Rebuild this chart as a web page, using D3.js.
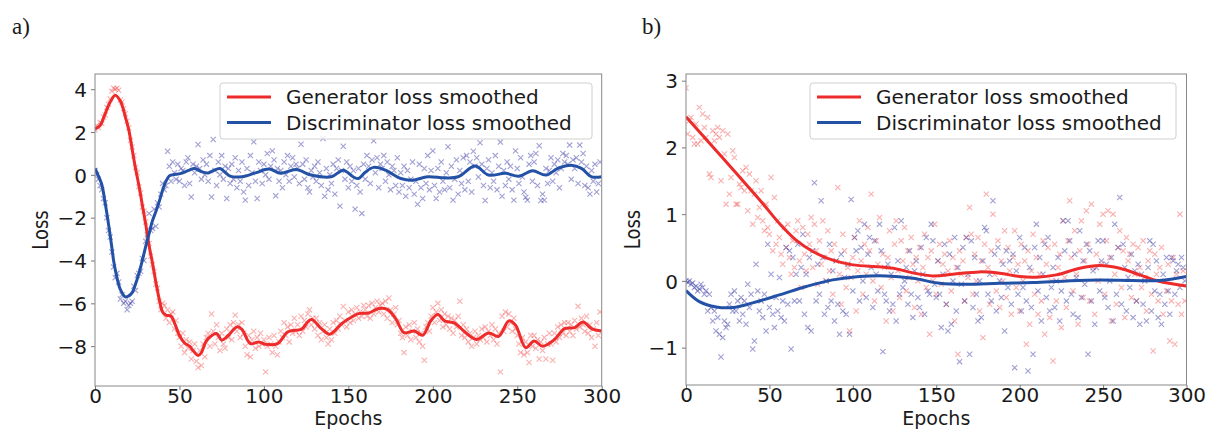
<!DOCTYPE html>
<html>
<head>
<meta charset="utf-8">
<script src="https://cdn.jsdelivr.net/npm/d3@7"></script>
<style>
  html, body { margin: 0; padding: 0; background: #fff; }
  svg { display: block; }
  text { font-family: "DejaVu Sans", sans-serif; fill: #1a1a1a; }
</style>
</head>
<body>
<svg id="chart" width="1215" height="430"></svg>
<script>
// ---------------- DATA ----------------
const xTicks = [0, 50, 100, 150, 200, 250, 300];
const yTicksA = [4, 2, 0, -2, -4, -6, -8];
const yTicksB = [3, 2, 1, 0, -1];
const seriesNames = ["Generator loss smoothed", "Discriminator loss smoothed"];
const panelLabels = ["a)", "b)"];

// raw per-epoch losses (epoch = index), panel a
const genPtsA = [
 2.1,2.3,2.2,2.45,2.4,2.7,2.8,3.15,3.3,3.55,
 3.9,4.05,4.0,4.05,3.95,3.5,3.4,3.1,2.85,2.5,
 2.2,1.6,1.3,0.9,0.35,0.1,-0.55,-0.85,-1.5,-1.7,
 -2.2,-2.9,-3.2,-3.8,-4.2,-4.5,-5.1,-5.3,-5.9,-6.3,
 -6.0,-6.1,-6.7,-6.3,-6.9,-6.5,-6.4,-7.2,-6.8,-7.4,
 -7.6,-8.0,-7.4,-8.3,-7.7,-8.1,-7.8,-8.6,-8.2,-7.9,
 -8.7,-9.0,-8.2,-8.9,-7.9,-8.5,-7.6,-7.4,-8.0,-6.5,
 -7.3,-7.9,-7.0,-7.6,-8.2,-7.4,-7.9,-8.1,-7.2,-7.6,
 -7.0,-7.7,-6.9,-6.55,-7.3,-7.0,-7.6,-6.9,-7.4,-8.0,
 -8.4,-7.5,-8.5,-7.7,-7.3,-8.1,-7.6,-8.0,-7.4,-7.9,
 -7.7,-9.2,-8.0,-7.6,-7.9,-8.3,-7.5,-8.0,-8.4,-7.8,
 -7.3,-7.6,-6.9,-7.5,-7.1,-7.8,-7.0,-7.4,-6.7,-7.3,
 -7.0,-7.5,-6.6,-7.3,-6.8,-7.1,-6.5,-6.3,-7.0,-6.7,
 -7.2,-6.7,-7.5,-6.9,-7.7,-7.3,-7.0,-7.6,-7.9,-7.2,
 -7.7,-6.9,-7.4,-6.8,-7.2,-6.6,-7.0,-6.15,-6.8,-7.1,
 -6.4,-6.9,-6.3,-6.8,-6.5,-6.2,-6.7,-6.4,-6.6,-6.1,
 -6.3,-6.6,-6.1,-6.7,-6.0,-6.5,-6.2,-5.9,-6.4,-6.1,
 -6.0,-6.5,-5.9,-6.7,-5.75,-6.3,-6.9,-6.5,-6.2,-7.0,
 -6.8,-7.4,-7.6,-8.3,-7.1,-7.5,-7.0,-7.7,-7.3,-6.9,
 -7.6,-7.2,-7.8,-7.4,-8.0,-8.66,-7.1,-6.9,-7.3,-6.6,
 -6.2,-6.9,-6.4,-6.0,-6.8,-6.3,-7.1,-6.5,-7.0,-6.6,
 -7.2,-6.7,-7.4,-6.8,-7.1,-6.6,-5.9,-7.5,-7.0,-7.6,
 -7.2,-7.8,-7.4,-8.0,-7.6,-7.3,-7.9,-7.5,-7.7,-7.2,
 -7.6,-7.1,-7.8,-7.3,-7.5,-7.0,-7.7,-7.2,-7.9,-7.4,
 -9.2,-6.6,-7.3,-6.4,-7.1,-6.5,-6.9,-7.3,-6.7,-7.2,
 -7.5,-7.9,-8.3,-7.6,-8.4,-7.8,-8.3,-8.76,-7.5,-8.0,
 -7.5,-8.1,-7.7,-8.6,-7.8,-8.2,-7.6,-8.6,-7.9,-7.4,
 -7.9,-8.66,-7.4,-7.8,-7.1,-7.6,-7.0,-7.4,-6.9,-7.5,
 -6.9,-7.3,-7.0,-7.5,-6.8,-7.2,-6.14,-7.1,-6.7,-7.0,
 -7.3,-6.6,-7.4,-7.0,-7.6,-7.2,-8.0,-6.9,-7.5,-6.4
];
const discPtsA = [
 0.2,0.0,-0.2,-0.5,-0.7,-1.1,-1.3,-2.0,-2.6,-2.9,
 -3.6,-4.3,-4.8,-4.6,-5.0,-5.8,-5.6,-6.0,-5.9,-6.3,
 -6.1,-6.0,-5.9,-5.2,-5.4,-4.7,-4.6,-4.5,-3.9,-4.0,
 -3.1,-2.8,-1.8,-2.6,-2.5,-1.6,-2.4,-1.3,-1.5,-0.9,
 -0.4,-0.7,-0.5,1.1,0.4,-0.3,0.6,0.1,-0.2,0.5,
 -0.3,0.3,0.2,-0.5,0.6,0.8,-0.4,-1.03,0.5,0.1,
 0.4,1.42,0.3,-0.2,0.7,0.0,0.5,-0.3,0.9,-1.03,
 1.65,0.2,-0.5,0.6,0.0,0.9,-0.2,0.4,-1.1,0.3,
 -0.4,0.5,-0.2,0.8,-0.6,0.2,-0.3,0.6,-0.8,-1.18,
 0.3,-0.5,0.9,0.1,1.54,-0.3,-1.1,0.6,0.2,-0.4,
 0.5,0.0,1.0,-0.2,0.4,1.12,0.7,-0.98,0.3,-0.3,
 0.2,-0.6,0.6,0.0,0.9,-0.3,0.4,0.8,-0.1,0.5,
 0.3,-0.4,1.43,0.5,-0.2,0.7,-0.6,-0.8,0.2,-0.1,
 0.4,-0.3,0.6,0.1,-0.5,1.7,-1.0,0.3,-0.7,0.0,
 -0.4,0.5,-0.9,0.3,0.7,-1.46,0.2,1.34,-0.2,0.6,
 -0.6,0.4,-0.3,0.2,-1.6,-0.5,0.3,-0.8,-1.8,0.5,
 -0.2,0.9,0.4,-0.4,0.7,1.59,0.1,0.8,-0.6,0.5,
 0.3,0.9,-0.3,0.6,0.0,-0.7,0.4,0.2,-0.5,0.8,
 -0.8,0.1,-0.5,0.4,-1.0,0.2,-0.6,-0.2,0.6,-0.9,
 -0.3,-1.37,0.5,-0.6,-1.1,0.3,-0.4,0.9,-0.7,0.2,
 1.12,-0.5,-1.1,0.3,-0.8,0.6,-0.3,-0.7,0.1,1.31,
 -0.6,0.4,-1.18,-0.2,0.7,-0.9,0.2,-0.4,0.8,-0.7,
 0.9,-0.3,0.6,-0.8,1.1,0.4,0.8,-0.1,1.5,0.5,
 -0.5,-1.2,0.3,0.7,-0.6,0.1,-0.3,0.9,-0.7,0.4,
 1.53,-1.0,0.2,-0.5,0.6,-0.2,0.4,-0.7,-1.18,1.12,
 0.3,-0.4,0.8,-0.1,-0.8,-1.05,-1.18,0.5,0.9,-0.3,
 0.6,1.0,-0.5,1.36,-1.2,-0.9,-1.18,0.3,-0.4,0.2,
 0.8,-0.3,0.5,0.1,0.7,-0.6,0.3,1.0,0.6,0.9,
 0.5,1.39,-0.2,0.7,0.3,0.8,-0.4,1.39,0.6,1.0,
 -0.5,0.4,-0.6,-0.9,0.2,-0.3,0.5,-0.8,-0.4,0.6
];
// raw per-epoch losses, panel b
const genPtsB = [
 2.89,2.2,2.4,2.45,2.15,2.05,2.35,2.05,2.6,2.1,
 2.5,2.3,2.15,2.45,1.6,1.55,2.25,2.1,2.2,2.3,
 2.15,1.5,2.25,1.9,1.15,2.2,1.3,1.55,1.95,1.85,
 1.15,1.15,1.45,1.4,1.65,1.35,1.7,1.05,1.6,1.35,
 0.85,1.3,1.5,0.95,1.1,1.35,0.9,0.75,1.15,0.8,
 0.7,1.55,0.45,1.25,0.55,0.9,0.65,0.4,0.25,0.8,
 0.5,0.85,0.35,0.1,0.6,0.2,0.75,0.9,0.3,-0.1,
 0.8,0.4,0.15,0.7,0.55,0.95,0.2,0.85,0.45,-0.05,
 0.6,0.25,0.9,0.35,0.0,0.75,0.15,0.45,-0.2,0.55,
 0.3,1.4,0.1,-0.35,0.7,0.45,-0.1,0.2,-0.75,0.05,
 0.35,0.65,-0.45,0.15,0.9,0.3,-0.2,0.55,0.1,0.8,
 0.45,1.3,0.0,-0.3,0.6,0.25,0.95,-0.1,0.4,0.2,
 -0.6,0.35,0.75,0.05,-0.45,0.55,0.9,0.15,-0.25,0.6,
 0.3,0.8,-0.15,0.45,0.05,0.65,0.25,-0.4,0.35,0.0,
 0.5,-0.5,0.2,0.7,-0.1,0.35,-0.8,0.45,0.0,0.85,
 -0.2,0.3,0.55,-0.05,0.25,0.4,-0.35,0.15,0.6,-0.15,
 0.35,-0.6,0.2,-1.1,0.45,0.1,0.3,-0.3,0.65,0.05,
 1.1,0.7,-0.2,0.4,0.0,0.65,-0.45,0.3,-0.85,0.55,
 1.3,0.2,-0.35,0.45,1.0,0.1,-0.15,0.6,-0.4,0.3,
 0.0,0.75,-0.25,0.5,0.15,-0.5,0.35,0.75,-0.1,0.25,
 -0.45,0.55,0.0,0.3,-0.95,0.45,-0.65,0.15,0.7,-0.2,
 0.35,-0.5,0.1,-0.3,0.6,-0.8,0.25,0.5,-0.55,0.0,
 -1.2,0.55,-0.3,0.2,0.4,-0.7,0.9,0.05,-0.4,0.6,
 1.2,0.35,-0.15,0.75,0.1,-0.65,0.45,0.9,-0.25,0.3,
 1.05,0.55,-0.3,1.15,0.2,-0.5,0.4,0.0,0.85,0.25,
 1.0,-0.2,0.6,1.05,0.35,-0.6,1.0,0.1,-0.35,0.5,
 0.75,-0.1,0.45,-0.55,0.65,0.3,0.4,-0.25,0.55,0.1,
 -0.3,0.5,0.2,-0.1,0.6,0.05,-0.45,0.3,0.45,-0.2,
 -1.05,0.4,0.1,-0.3,0.2,0.5,-0.5,0.0,-0.15,0.25,
 -0.9,-0.3,0.35,-0.95,0.1,-0.35,1.0,-0.5,0.15,-0.3
];
const discPtsB = [
 0.0,-0.02,0.0,-0.05,-0.03,-0.1,-0.08,-0.15,-0.12,-0.05,
 -0.1,-0.2,-0.15,-0.45,-0.2,-0.4,-0.6,-0.45,-0.75,-0.55,
 -0.8,-1.14,-0.85,-0.6,-0.7,-0.65,-0.35,-0.2,-0.45,-0.15,
 -0.45,-0.3,-0.6,-0.25,-0.5,-0.3,-0.65,-0.05,-0.4,-0.2,
 -1.02,-0.9,0.25,-0.15,-0.45,-0.3,-0.55,-0.2,-0.75,0.55,
 -0.4,0.1,-0.5,-0.7,-0.25,-0.45,0.05,-0.55,-0.3,-0.6,
 0.5,-0.35,0.45,-1.02,0.35,-0.3,0.1,0.55,-0.3,0.2,
 0.7,-0.5,0.1,-0.7,0.35,-0.75,0.45,1.47,-0.3,0.25,
 -0.2,1.2,0.35,-0.5,0.0,-0.4,0.55,-0.3,0.15,-0.6,
 0.3,-0.35,-0.8,0.4,-0.45,0.05,-0.5,0.25,-0.8,1.22,
 -0.15,0.65,0.45,0.75,-0.3,0.5,0.0,0.85,-0.25,0.4,
 0.65,0.2,-0.4,0.6,0.1,-0.15,0.85,0.45,-1.06,-0.2,
 -0.3,0.25,-0.45,0.1,-0.35,0.8,-0.6,0.3,-0.2,0.9,
 -0.1,0.0,0.2,-0.35,0.45,-0.2,-0.55,0.15,0.3,-0.25,
 -0.4,0.5,0.1,-0.5,0.65,-0.15,-0.2,0.85,0.6,-0.05,
 -0.25,0.3,-0.2,-0.7,0.1,0.55,-0.35,-0.75,0.4,-0.65,
 0.0,0.65,-0.45,0.2,-1.21,-0.05,0.5,-0.3,0.65,0.1,
 -1.1,0.6,-0.4,0.35,-0.2,-0.6,0.0,-0.55,0.3,0.8,
 0.75,-0.2,0.1,-0.3,1.2,0.4,-0.45,0.5,0.0,-0.25,
 0.25,-0.75,0.45,-0.1,0.3,-0.35,0.4,-1.3,0.15,-0.2,
 0.65,-0.45,-0.1,0.5,-0.3,-1.35,0.2,-0.4,-1.1,0.5,
 0.85,-0.15,0.35,-0.6,0.1,0.55,-0.25,0.65,-0.45,-0.1,
 0.2,-0.4,0.0,0.35,-0.6,-0.15,0.9,0.45,-0.3,0.9,
 0.6,-0.2,-0.5,0.4,0.05,-0.55,0.75,-0.25,0.3,-0.05,
 0.55,-1.1,0.45,-0.3,0.15,-0.65,0.2,0.6,-0.15,0.3,
 0.6,-0.25,0.25,-0.4,0.0,0.35,-0.6,0.85,-0.2,0.5,
 1.25,-0.35,0.55,0.2,-0.45,0.05,-0.1,0.4,-0.55,0.15,
 -0.3,0.25,-0.65,0.1,-0.35,0.0,-0.6,0.2,0.6,-0.45,
 0.55,-0.15,0.3,-0.55,-0.2,-0.65,0.1,-0.35,0.35,-0.15,
 -0.5,0.35,0.3,-0.2,0.15,0.25,-0.1,0.35,0.2,0.0
];

// smoothed curves (epoch, value)
const genLineAEpochs = [0,3,6,9,12,15,18,20,22,24,26,28,30,32,34,36,38,40,42,45,47,50,53,56,58,61,63,65,67,72,75,79,84,87,92,97,101,108,114,118,122,128,134,139,146,152,156,162,168,173,178,183,189,194,199,203,207,213,219,226,233,239,245,249,255,260,265,272,278,284,289,294,300];
const genLineAValues = [2.15,2.3,2.85,3.4,3.72,3.45,2.7,2.1,1.2,0.3,-0.5,-1.4,-2.3,-3.3,-4.1,-5.0,-5.8,-6.4,-6.55,-6.6,-6.9,-7.5,-7.85,-8.0,-8.2,-8.43,-8.3,-7.9,-7.65,-7.41,-7.72,-7.49,-7.1,-7.22,-7.88,-7.8,-7.91,-7.88,-7.34,-7.26,-7.22,-6.76,-7.18,-7.44,-6.95,-6.64,-6.48,-6.45,-6.24,-6.28,-6.71,-7.37,-7.29,-7.49,-6.79,-6.52,-6.82,-6.92,-7.34,-7.69,-7.38,-7.54,-6.82,-7.02,-8.07,-7.76,-8.0,-7.69,-7.18,-7.13,-6.87,-7.18,-7.29];
const discLineAEpochs = [0,2,4,6,8,10,11,13,15,18,20,22,24,26,28,30,32,34,36,38,40,42,44,46,51,55,59,63,67,70,74,77,80,87,95,103,110,119,128,140,147,153,156,160,165,172,181,188,197,207,215,225,233,243,251,259,267,274,282,288,294,300];
const discLineAValues = [0.3,-0.05,-0.45,-1.3,-2.3,-3.4,-4.0,-4.8,-5.35,-5.7,-5.65,-5.5,-5.1,-4.6,-4.0,-3.35,-2.75,-2.15,-1.72,-1.25,-0.72,-0.3,-0.05,0.0,0.07,0.2,0.3,0.15,0.09,0.2,0.3,0.12,-0.06,-0.09,0.09,0.27,0.07,0.25,-0.01,-0.09,0.22,-0.1,-0.17,0.12,0.35,0.22,-0.17,-0.25,-0.09,-0.14,-0.09,0.41,-0.01,0.07,-0.06,0.19,-0.01,0.3,0.45,0.3,-0.09,-0.09];
const genLineBEpochs = [0,16,32,46,56,66,76,88,100,116,126,136,148,160,176,188,200,210,222,236,248,260,272,284,300];
const genLineBValues = [2.46,2.01,1.56,1.16,0.86,0.61,0.44,0.31,0.24,0.21,0.18,0.12,0.075,0.1,0.135,0.115,0.065,0.055,0.09,0.19,0.23,0.19,0.09,-0.01,-0.075];
const discLineBEpochs = [0,8,18,28,40,56,72,88,104,120,136,152,168,188,208,228,248,268,284,300];
const discLineBValues = [-0.145,-0.31,-0.39,-0.4,-0.33,-0.21,-0.085,0.015,0.065,0.075,0.04,-0.035,-0.05,-0.035,-0.025,0.0,0.015,0.005,0.005,0.065];

// ---------------- DRAW ----------------
const RED = "#ee2b2b", BLUE = "#2351a6";
const RED_PT = "#f03030", BLUE_PT = "#2d2da0";
const svg = d3.select("#chart");

const panels = [
  { label: panelLabels[0], labelX: 12, left: 95, right: 601.7, top: 74, bottom: 386,
    yDomain: [-9.86, 4.71], yTicks: yTicksA, gen: genPtsA, disc: discPtsA,
    genLine: [genLineAEpochs, genLineAValues], discLine: [discLineAEpochs, discLineAValues],
    lossX: 40, legend: { x: 220, y: 83, w: 372, h: 56 } },
  { label: panelLabels[1], labelX: 642, left: 686, right: 1186.5, top: 74, bottom: 385,
    yDomain: [-1.56, 3.1], yTicks: yTicksB, gen: genPtsB, disc: discPtsB,
    genLine: [genLineBEpochs, genLineBValues], discLine: [discLineBEpochs, discLineBValues],
    lossX: 632, legend: { x: 810, y: 83, w: 366, h: 56 } }
];

const fmt = v => (v < 0 ? "\u2212" + Math.abs(v) : String(v));

panels.forEach((p, pi) => {
  const x = d3.scaleLinear().domain([0, 300]).range([p.left, p.right]);
  const y = d3.scaleLinear().domain(p.yDomain).range([p.bottom, p.top]);
  const g = svg.append("g");

  g.append("text").attr("x", p.labelX).attr("y", 34)
    .style("font-family", '"Liberation Serif", "Times New Roman", serif')
    .style("font-size", "23px").text(p.label);

  const clipId = "clip" + pi;
  svg.append("clipPath").attr("id", clipId).append("rect")
    .attr("x", p.left).attr("y", p.top).attr("width", p.right - p.left).attr("height", p.bottom - p.top);

  const plot = g.append("g").attr("clip-path", `url(#${clipId})`);

  const drawX = (data, color, op) => {
    const s = 2.6;
    plot.append("g").selectAll("path").data(data).join("path")
      .attr("d", (d, i) => {
        const cx = x(i), cy = y(d);
        return `M${cx - s},${cy - s}L${cx + s},${cy + s}M${cx - s},${cy + s}L${cx + s},${cy - s}`;
      })
      .attr("stroke", color).attr("stroke-opacity", op).attr("stroke-width", 1.1).attr("fill", "none");
  };
  drawX(p.gen, RED_PT, 0.38);
  drawX(p.disc, BLUE_PT, 0.45);

  const line = d3.line().x(d => x(d[0])).y(d => y(d[1])).curve(d3.curveCatmullRom.alpha(0.5));
  const gl = d3.zip(p.genLine[0], p.genLine[1]);
  const dl = d3.zip(p.discLine[0], p.discLine[1]);
  plot.append("path").attr("d", line(gl)).attr("fill", "none").attr("stroke", RED).attr("stroke-width", 3);
  plot.append("path").attr("d", line(dl)).attr("fill", "none").attr("stroke", BLUE).attr("stroke-width", 3);

  // axes
  const xAxis = d3.axisBottom(x).tickValues(xTicks).tickSize(4).tickPadding(2).tickFormat(fmt);
  const yAxis = d3.axisLeft(y).tickValues(p.yTicks).tickSize(4).tickPadding(4).tickFormat(fmt);
  const ax = g.append("g").attr("transform", `translate(0,${p.bottom})`).call(xAxis);
  const ay = g.append("g").attr("transform", `translate(${p.left},0)`).call(yAxis);
  [ax, ay].forEach(a => {
    a.select(".domain").remove();
    a.selectAll("line").attr("stroke", "#777");
    a.selectAll("text").style("font-family", '"DejaVu Sans", sans-serif').style("font-size", "20px").attr("fill", "#1a1a1a");
  });
  ax.selectAll("text").attr("dy", "0.525em");
  ay.selectAll("text").attr("dy", "0.36em");

  g.append("rect").attr("x", p.left).attr("y", p.top)
    .attr("width", p.right - p.left).attr("height", p.bottom - p.top)
    .attr("fill", "none").attr("stroke", "#888").attr("stroke-width", 1);

  // axis titles
  g.append("text").attr("x", (p.left + p.right) / 2).attr("y", 425.3).attr("text-anchor", "middle")
    .style("font-size", "19px").text("Epochs");
  g.append("text").attr("transform", `translate(${p.lossX},${(p.top + p.bottom) / 2}) rotate(-90) scale(1,1.2)`)
    .attr("text-anchor", "middle").attr("dy", "0.36em").style("font-size", "18px").text("Loss");

  // legend
  const L = p.legend;
  const lg = g.append("g");
  lg.append("rect").attr("x", L.x).attr("y", L.y).attr("width", L.w).attr("height", L.h)
    .attr("rx", 3).attr("fill", "#fff").attr("fill-opacity", 0.8).attr("stroke", "#d0d0d0");
  [[RED, seriesNames[0]], [BLUE, seriesNames[1]]].forEach((it, k) => {
    const yy = L.y + 14 + k * 25.6;
    lg.append("line").attr("x1", L.x + 7).attr("x2", L.x + 51).attr("y1", yy).attr("y2", yy)
      .attr("stroke", it[0]).attr("stroke-width", 3);
    lg.append("text").attr("x", L.x + 66).attr("y", yy).attr("dy", "0.36em")
      .style("font-size", "20px").text(it[1]);
  });
});
</script>
</body>
</html>
